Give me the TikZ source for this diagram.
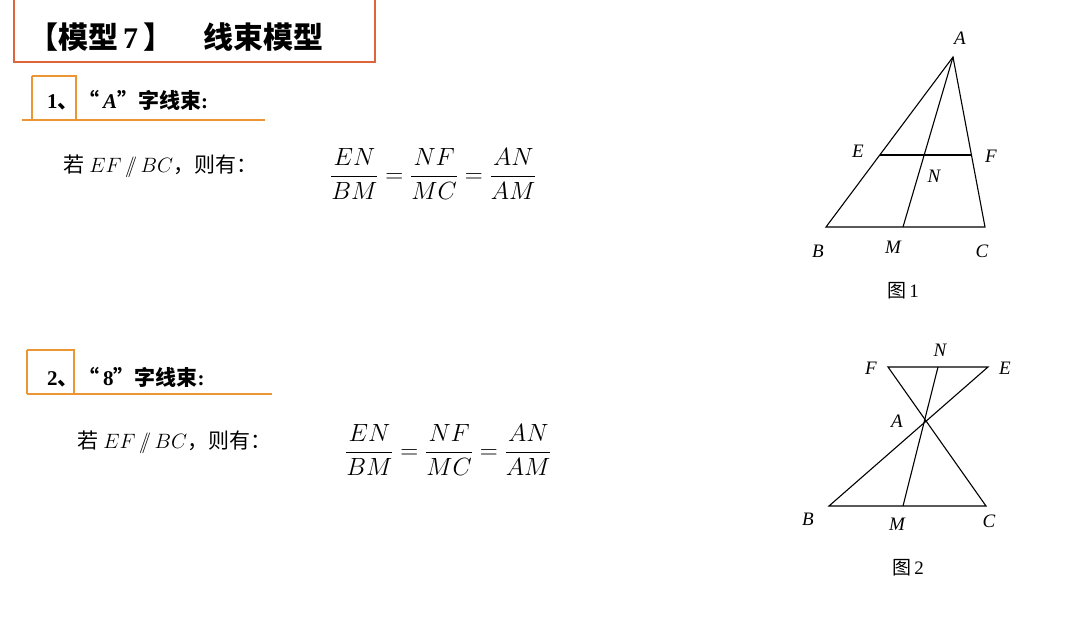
\documentclass[tikz,border=0pt]{standalone}
\usepackage{fontspec}
\setmainfont{Liberation Serif}
\newfontfamily\cjk{Noto Sans CJK SC}
\usepackage{amsmath}
\definecolor{boxred}{RGB}{222,100,60}
\definecolor{lineorange}{RGB}{235,150,50}
\tikzset{
  title/.style={anchor=west,inner sep=0pt,font=\fontsize{30}{33}\selectfont\bfseries},
  head/.style={anchor=west,inner sep=0pt,font=\fontsize{21}{24}\selectfont\bfseries},
  body/.style={anchor=west,inner sep=0pt,font=\fontsize{21}{24}\selectfont},
  frac/.style={anchor=west,inner sep=0pt,font=\fontsize{23}{26}\selectfont},
  pt/.style={inner sep=0pt,font=\fontsize{19}{22}\selectfont\itshape},
  figcap/.style={inner sep=0pt,font=\fontsize{19}{22}\selectfont},
  geo/.style={line width=1.1pt}
}
\begin{document}
\begin{tikzpicture}[x=1pt,y=-1pt]
\useasboundingbox[fill=white] (0,0) rectangle (1080,639);
% header
\draw[boxred,line width=2pt] (14,-2) -- (14,62) -- (375,62) -- (375,-2);
\node[title] (ttl) at (28,37){{\cjk 【模型}\,7\,{\cjk 】\quad 线束模型}};
% part 1
\draw[lineorange,line width=1.6pt] (32,76) -- (76,76) -- (76,120);
\draw[lineorange,line width=1.6pt] (32,76) -- (32,120);
\draw[lineorange,line width=1.6pt] (22,120) -- (265,120);
\node[head] (h1) at (47,100){1{\cjk 、“}\,\textit{A}{\cjk ”字线束}:};
\node[body] (t1) at (63,166){{\cjk 若} $EF\,/\!\!/\,BC${\cjk ，则有：}};
\node[frac] (f1) at (330,174){$\dfrac{EN}{BM}=\dfrac{NF}{MC}=\dfrac{AN}{AM}$};
% part 2
\draw[lineorange,line width=1.6pt] (27,350) -- (74,350) -- (74,394);
\draw[lineorange,line width=1.6pt] (27,350) -- (27,394);
\draw[lineorange,line width=1.6pt] (27,394) -- (272,394);
\node[head] (h2) at (47,377){2{\cjk 、“}\,8{\cjk ”字线束}:};
\node[body] (t2) at (77,442){{\cjk 若} $EF\,/\!\!/\,BC${\cjk ，则有：}};
\node[frac] (f2) at (345,450){$\dfrac{EN}{BM}=\dfrac{NF}{MC}=\dfrac{AN}{AM}$};
% figure 1
\coordinate (A1) at (953,57);
\coordinate (B1) at (826,227);
\coordinate (C1) at (985,227);
\coordinate (E1) at (880,155);
\coordinate (F1) at (971,155);
\coordinate (M1) at (903,227);
\draw[geo] (A1) -- (B1) -- (C1) -- cycle;
\draw[geo] (E1) -- (F1);
\draw[geo] (A1) -- (M1);
\node[pt] (lA1) at (960,38){A};
\node[pt] (lE1) at (858,151){E};
\node[pt] (lF1) at (991,156){F};
\node[pt] (lN1) at (934,176){N};
\node[pt] (lB1) at (818,251){B};
\node[pt] (lM1) at (893,247){M};
\node[pt] (lC1) at (982,251){C};
\node[figcap] (cap1) at (903,291){{\cjk 图}\,1};
% figure 2
\coordinate (F2) at (888,367);
\coordinate (E2) at (988,367);
\coordinate (N2) at (938,367);
\coordinate (B2) at (829,506);
\coordinate (C2) at (986,506);
\coordinate (M2) at (903,506);
\draw[geo] (F2) -- (E2) -- (B2) -- (C2) -- cycle;
\draw[geo] (N2) -- (M2);
\node[pt] (lF2) at (871,368){F};
\node[pt] (lN2) at (940,350){N};
\node[pt] (lE2) at (1005,368){E};
\node[pt] (lA2) at (897,421){A};
\node[pt] (lB2) at (808,519){B};
\node[pt] (lM2) at (897,524){M};
\node[pt] (lC2) at (989,521){C};
\node[figcap] (cap2) at (908,568){{\cjk 图}\,2};
\end{tikzpicture}
\end{document}
